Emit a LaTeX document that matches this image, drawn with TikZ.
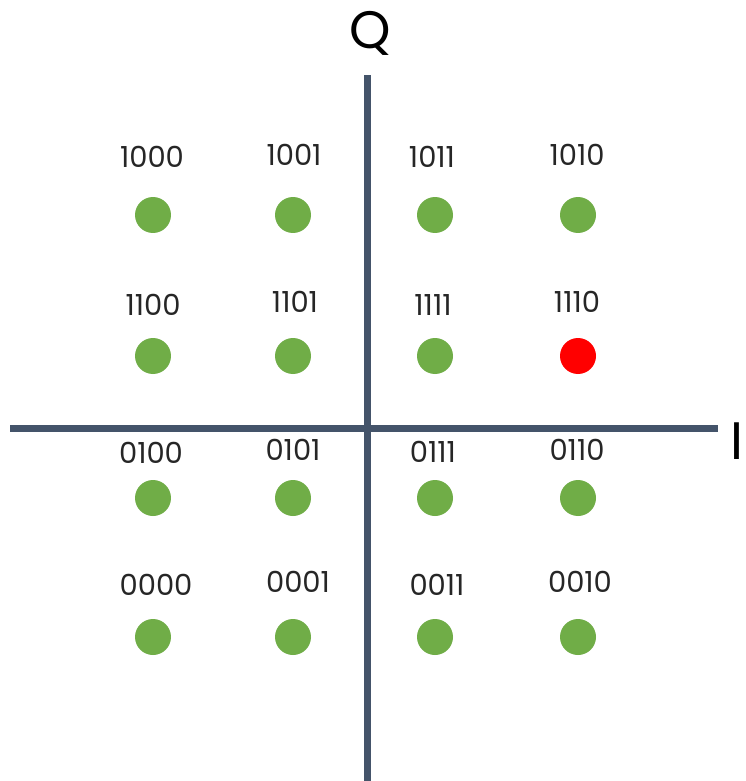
\documentclass[tikz,border=0pt]{standalone}
\usepackage{fontspec}
\setmainfont{Poppins}
\usetikzlibrary{positioning}

\definecolor{axisgray}{HTML}{44546A}
\definecolor{ptgreen}{HTML}{70AD47}
\definecolor{ptred}{HTML}{FF0000}

\begin{document}
\begin{tikzpicture}[
  x=0.02cm, y=-0.02cm,
  every node/.style={font=\fontsize{16.5}{19}\selectfont},
  pt/.style={circle, fill=ptgreen, minimum size=0.72cm, inner sep=0pt},
  hot/.style={pt, fill=ptred},
  bits/.style={inner sep=0pt, text=black!85},
  axis/.style={draw=axisgray, line width=0.14cm},
  axlbl/.style={font=\fontsize{30}{34}\selectfont, inner sep=0pt},
]
\useasboundingbox[fill=white] (0,0) rectangle (745,781);

%% -- Column / row positions --------------------------
\def\ca{153} \def\cb{293} \def\cc{435} \def\cd{578}
\def\ra{215} \def\rb{356} \def\rc{498} \def\rd{637}

%% -- Axes --------------------------------------------
\coordinate (qtop) at (367,75);
\coordinate (qbot) at (367,781);
\coordinate (ileft) at (10,428);
\coordinate (iright) at (718,428);
\draw[axis] (ileft) -- (iright);
\draw[axis] (qtop) -- (qbot);
\node[axlbl] (qlbl) at (370,33) {Q};
\node[axlbl, anchor=west] (ilbl) at (730,441) {I};

%% -- Row 1 -------------------------------------------
\node[pt] (p1000) at (\ca,\ra) {};
\node[pt] (p1001) at (\cb,\ra) {};
\node[pt] (p1011) at (\cc,\ra) {};
\node[pt] (p1010) at (\cd,\ra) {};
\node[bits] at (152,157) {1000};
\node[bits] at (294,155) {1001};
\node[bits] at (432,157) {1011};
\node[bits] at (577,155) {1010};

%% -- Row 2 -------------------------------------------
\node[pt]  (p1100) at (\ca,\rb) {};
\node[pt]  (p1101) at (\cb,\rb) {};
\node[pt]  (p1111) at (\cc,\rb) {};
\node[hot] (p1110) at (\cd,\rb) {};
\node[bits] at (153,305) {1100};
\node[bits] at (295,302) {1101};
\node[bits] at (433,305) {1111};
\node[bits] at (577,302) {1110};

%% -- Row 3 -------------------------------------------
\node[pt] (p0100) at (\ca,\rc) {};
\node[pt] (p0101) at (\cb,\rc) {};
\node[pt] (p0111) at (\cc,\rc) {};
\node[pt] (p0110) at (\cd,\rc) {};
\node[bits] at (151,453) {0100};
\node[bits] at (293,450) {0101};
\node[bits] at (433,452) {0111};
\node[bits] at (577,450) {0110};

%% -- Row 4 -------------------------------------------
\node[pt] (p0000) at (\ca,\rd) {};
\node[pt] (p0001) at (\cb,\rd) {};
\node[pt] (p0011) at (\cc,\rd) {};
\node[pt] (p0010) at (\cd,\rd) {};
\node[bits] at (156,585) {0000};
\node[bits] at (298,582) {0001};
\node[bits] at (437,585) {0011};
\node[bits] at (580,582) {0010};

\end{tikzpicture}
\end{document}
